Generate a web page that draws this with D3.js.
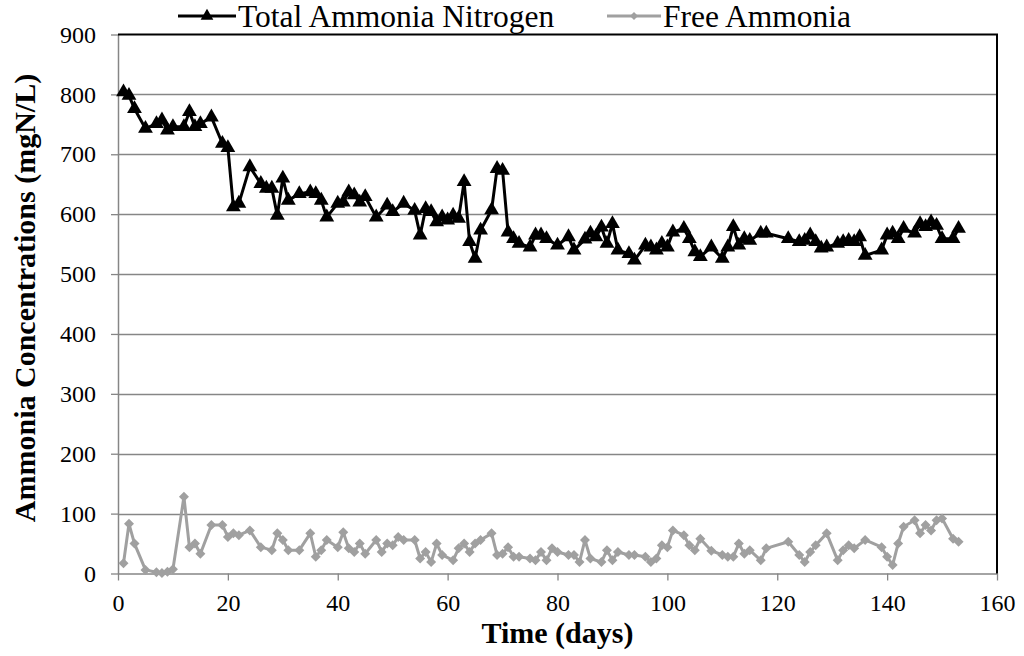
<!DOCTYPE html>
<html>
<head>
<meta charset="utf-8">
<script src="https://cdn.jsdelivr.net/npm/d3@7"></script>
<style>
  html, body { margin: 0; padding: 0; background: #fff; }
  svg text { font-family: "Liberation Serif", "Times New Roman", Times, serif !important; }
</style>
</head>
<body>
<svg id="chart" width="1024" height="656"></svg>
<script>
// Total ammonia nitrogen (mgN/L) by day
const tanDays = [1,2,3,5,7,8,9,10,12,13,14,15,17,19,20,21,22,24,26,27,28,29,30,31,33,35,36,37,38,40,41,42,43,44,45,47,49,50,52,54,55,56,57,58,59,60,61,62,63,64,65,66,68,69,70,71,72,73,75,76,77,78,80,82,83,85,86,87,88,89,90,91,93,94,96,97,98,99,100,101,103,104,105,106,108,110,111,112,113,114,115,117,118,122,124,125,126,127,128,129,131,132,133,134,135,136,139,140,141,142,143,145,146,147,148,149,150,152,153];
const tanValues = [804,798,776,743,751,757,740,746,746,771,746,751,762,718,711,612,618,679,651,643,643,598,660,623,634,637,634,623,595,618,620,637,632,620,629,595,615,604,618,606,565,609,604,587,595,590,598,593,654,554,526,573,607,676,673,570,559,551,545,565,565,559,548,562,540,558,568,562,578,551,584,540,534,523,548,545,540,551,545,570,576,559,537,529,545,526,545,579,548,559,556,568,568,559,554,556,565,554,543,545,551,554,556,554,562,531,540,565,568,559,576,568,584,579,587,581,559,559,576];

// Free ammonia (mgN/L) by day
const faDays = [1,2,3,5,7,8,9,10,12,13,14,15,17,19,20,21,22,24,26,28,29,30,31,33,35,36,37,38,40,41,42,43,44,45,47,48,49,50,51,52,54,55,56,57,58,59,61,62,63,64,65,66,68,69,70,71,72,73,75,76,77,78,79,80,82,83,84,85,86,88,89,90,91,93,94,96,97,98,99,100,101,103,104,105,106,108,110,111,112,113,114,115,117,118,122,124,125,126,127,129,131,132,133,134,136,139,140,141,142,143,145,146,147,148,149,150,152,153];
const faValues = [17,83,50,6,2,1,3,7,128,44,50,33,81,81,61,67,64,72,44,39,67,56,39,39,67,28,39,56,44,69,42,36,50,33,56,36,50,47,61,56,56,25,36,19,50,31,22,42,50,36,50,56,67,31,33,44,28,28,25,22,36,22,42,36,31,31,19,56,25,19,39,22,36,31,31,28,19,25,47,44,72,64,47,39,58,38,31,28,28,50,33,39,22,42,53,31,19,36,47,67,22,39,47,42,56,44,28,14,50,78,89,67,81,72,89,92,58,53];

// Axis ticks
const xTicks = [0,20,40,60,80,100,120,140,160];
const yTicks = [0,100,200,300,400,500,600,700,800,900];

const seriesNames = ["Total Ammonia Nitrogen", "Free Ammonia"];

const svg = d3.select("#chart");
const plot = { left: 118, right: 997, top: 34.5, bottom: 573.5 };

const x = d3.scaleLinear().domain([0, 160]).range([plot.left, plot.right]);
const y = d3.scaleLinear().domain([0, 900]).range([plot.bottom, plot.top]);

const tanColor = "#000000";
const faColor = "#a0a0a0";
const serif = "'Liberation Serif', 'Times New Roman', Times, serif";

// Horizontal gridlines
svg.append("g")
  .selectAll("line")
  .data(yTicks.filter(t => t > 0 && t < 900))
  .join("line")
  .attr("x1", plot.left).attr("x2", plot.right)
  .attr("y1", d => Math.round(y(d)) + 0.5).attr("y2", d => Math.round(y(d)) + 0.5)
  .attr("stroke", "#868686").attr("stroke-width", 1.3);

// X axis
const xAxis = svg.append("g")
  .attr("transform", `translate(0,${plot.bottom})`)
  .call(d3.axisBottom(x).tickValues(xTicks).tickSize(7).tickSizeOuter(0).tickPadding(13));
xAxis.attr("font-family", serif);
xAxis.select(".domain").attr("stroke", "#868686").attr("stroke-width", 1.5);
xAxis.selectAll(".tick line").attr("stroke", "#868686").attr("stroke-width", 1.3);
xAxis.selectAll(".tick text").attr("fill", "#000").style("font-size", "24px");

// Y axis
const yAxis = svg.append("g")
  .attr("transform", `translate(${plot.left},0)`)
  .call(d3.axisLeft(y).tickValues(yTicks).tickSize(7).tickSizeOuter(0).tickPadding(15));
yAxis.attr("font-family", serif);
yAxis.select(".domain").attr("stroke", "#868686").attr("stroke-width", 1.5);
yAxis.selectAll(".tick line").attr("stroke", "#868686").attr("stroke-width", 1.3);
yAxis.selectAll(".tick text").attr("fill", "#000").style("font-size", "24px");

// Plot frame (top and right edges)
svg.append("path")
  .attr("d", `M${plot.left},${plot.top}H${plot.right}V${plot.bottom}`)
  .attr("fill", "none").attr("stroke", "#000").attr("stroke-width", 2);

// Axis titles
svg.append("text")
  .attr("x", (plot.left + plot.right) / 2).attr("y", 643)
  .attr("text-anchor", "middle").attr("font-weight", "bold").style("font-size", "30px")
  .text("Time (days)");

svg.append("text")
  .attr("transform", `translate(35,298) rotate(-90)`)
  .attr("text-anchor", "middle").attr("font-weight", "bold").style("font-size", "30px")
  .text("Ammonia Concentrations (mgN/L)");

// Series
const tanData = tanDays.map((d, i) => [d, tanValues[i]]);
const faData = faDays.map((d, i) => [d, faValues[i]]);

const line = d3.line().x(d => x(d[0])).y(d => y(d[1]));
const triangle = d3.symbol().type(d3.symbolTriangle).size(95);
const diamond = d3.symbol().type(d3.symbolSquare).size(50);

// Free ammonia
svg.append("path").datum(faData)
  .attr("d", line).attr("fill", "none")
  .attr("stroke", faColor).attr("stroke-width", 3).attr("stroke-linejoin", "round");
svg.append("g").selectAll("path").data(faData).join("path")
  .attr("d", diamond)
  .attr("transform", d => `translate(${x(d[0])},${y(d[1])}) rotate(45)`)
  .attr("fill", faColor);

// Total ammonia nitrogen
svg.append("path").datum(tanData)
  .attr("d", line).attr("fill", "none")
  .attr("stroke", tanColor).attr("stroke-width", 3).attr("stroke-linejoin", "round");
svg.append("g").selectAll("path").data(tanData).join("path")
  .attr("d", triangle)
  .attr("transform", d => `translate(${x(d[0])},${y(d[1])})`)
  .attr("fill", tanColor);

// Legend
const legend = svg.append("g");
const legendItems = [
  { name: seriesNames[0], color: tanColor, symbol: d3.symbol().type(d3.symbolTriangle).size(70), rot: 0, x0: 178, x1: 236, tx: 238 },
  { name: seriesNames[1], color: faColor, symbol: d3.symbol().type(d3.symbolSquare).size(32), rot: 45, x0: 607, x1: 661, tx: 663 }
];
legendItems.forEach(it => {
  const g = legend.append("g");
  g.append("line").attr("x1", it.x0).attr("x2", it.x1).attr("y1", 16).attr("y2", 16)
    .attr("stroke", it.color).attr("stroke-width", 3);
  g.append("path").attr("d", it.symbol)
    .attr("transform", `translate(${(it.x0 + it.x1) / 2},16) rotate(${it.rot})`)
    .attr("fill", it.color);
  g.append("text").attr("x", it.tx).attr("y", 27).style("font-size", "31.5px")
    .text(it.name);
});
</script>
</body>
</html>
